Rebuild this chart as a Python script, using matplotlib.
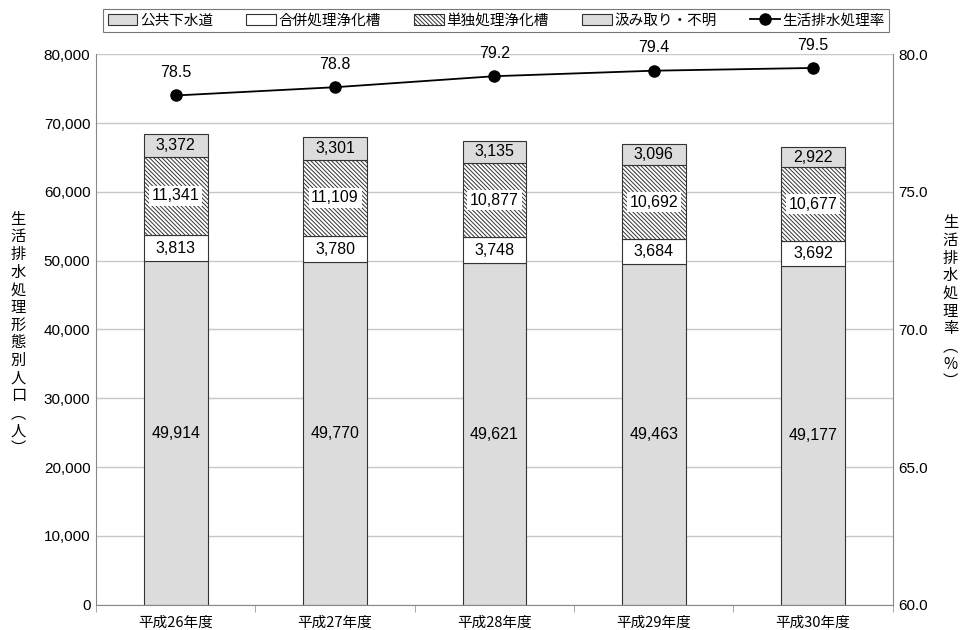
import matplotlib.pyplot as plt
import numpy as np
from matplotlib.ticker import FuncFormatter, FixedLocator

plt.rcParams['font.family'] = ['Noto Sans CJK JP', 'DejaVu Sans']
plt.rcParams['hatch.linewidth'] = 0.7
plt.rcParams['hatch.color'] = '#707070'

years = ['平成26年度', '平成27年度', '平成28年度', '平成29年度', '平成30年度']
sewer = [49914, 49770, 49621, 49463, 49177]
combined = [3813, 3780, 3748, 3684, 3692]
single = [11341, 11109, 10877, 10692, 10677]
collection = [3372, 3301, 3135, 3096, 2922]
rate = [78.5, 78.8, 79.2, 79.4, 79.5]

fig = plt.figure(figsize=(9.6, 6.3), dpi=100)
ax = fig.add_axes([0.1, 0.04, 0.83, 0.874])
x = np.arange(len(years))
w = 0.4

series = [
    ('公共下水道', sewer, '#dcdcdc', None),
    ('合併処理浄化槽', combined, 'white', None),
    ('単独処理浄化槽', single, 'white', '\\' * 8),
    ('汲み取り・不明', collection, '#dcdcdc', None),
]
bottom = np.zeros(len(years))
handles = []
for name, vals, col, hatch in series:
    bars = ax.bar(x, vals, w, bottom=bottom, color=col, edgecolor='#333333',
                  linewidth=0.8, hatch=hatch, label=name, zorder=2)
    handles.append(bars)
    for xi, v, b0 in zip(x, vals, bottom):
        bbox = dict(facecolor='white', edgecolor='none', pad=2) if hatch else None
        ax.text(xi, b0 + v / 2, f'{v:,}', ha='center', va='center',
                fontsize=11.5, family='Liberation Sans', bbox=bbox, zorder=4)
    bottom += np.array(vals)

ax.set_xlim(-0.5, len(years) - 0.5)
ax.set_ylim(0, 80000)
ax.set_yticks(np.arange(0, 80001, 10000))
ax.yaxis.set_major_formatter(FuncFormatter(lambda v, p: f'{int(v):,}'))
ax.grid(axis='y', color='#c8c8c8', linewidth=1, zorder=0)
ax.set_axisbelow(True)
ax.set_xticks(x)
ax.set_xticklabels(years, fontsize=10.5)
ax.tick_params(axis='x', length=0, pad=8)
ax.xaxis.set_minor_locator(FixedLocator(np.arange(-0.5, len(years), 1.0)))
ax.tick_params(axis='x', which='minor', length=5, color='#999999')
ax.tick_params(axis='y', labelsize=11, length=0, pad=4)
for lbl in ax.get_yticklabels():
    lbl.set_family('Liberation Sans')
for s in ['top', 'right']:
    ax.spines[s].set_visible(False)
ax.spines['bottom'].set_color('#888888')
ax.spines['left'].set_color('#888888')

ax2 = ax.twinx()
ax2.set_ylim(60, 80)
ax2.set_yticks(np.arange(60, 80.1, 5))
ax2.yaxis.set_major_formatter(FuncFormatter(lambda v, p: f'{v:.1f}'))
ax2.tick_params(axis='y', labelsize=11, length=0, pad=4)
for lbl in ax2.get_yticklabels():
    lbl.set_family('Liberation Sans')
for s in ['top', 'left', 'bottom']:
    ax2.spines[s].set_visible(False)
ax2.spines['right'].set_color('#888888')
line, = ax2.plot(x, rate, color='black', marker='o', markersize=8,
                 linewidth=1.3, label='生活排水処理率', zorder=5)
for xi, r in zip(x, rate):
    ax2.annotate(f'{r:.1f}', (xi, r), xytext=(0, 11), textcoords='offset points',
                 ha='center', va='bottom', fontsize=11.5, family='Liberation Sans')

leg = fig.legend(handles + [line], [s[0] for s in series] + ['生活排水処理率'],
                 loc='upper center', bbox_to_anchor=(0.517, 0.997), ncol=5,
                 fontsize=10.5, frameon=True, fancybox=False, edgecolor='#555555',
                 handlelength=2.0, handleheight=0.7, handletextpad=0.2,
                 columnspacing=2.3, borderpad=0.3)
leg.get_frame().set_linewidth(0.8)

# vertical axis titles, using vertical-form brackets
ylab_left = '生活排水処理形態別人口︵人︶'
fig.text(0.019, 0.47, '\n'.join(ylab_left), ha='center', va='center',
         fontsize=11, linespacing=1.05)
ylab_right = '生活排水処理率︵%︶'
fig.text(0.99, 0.52, '\n'.join(ylab_right), ha='center', va='center',
         fontsize=11, linespacing=1.05)

fig.savefig('out.png', dpi=100)
